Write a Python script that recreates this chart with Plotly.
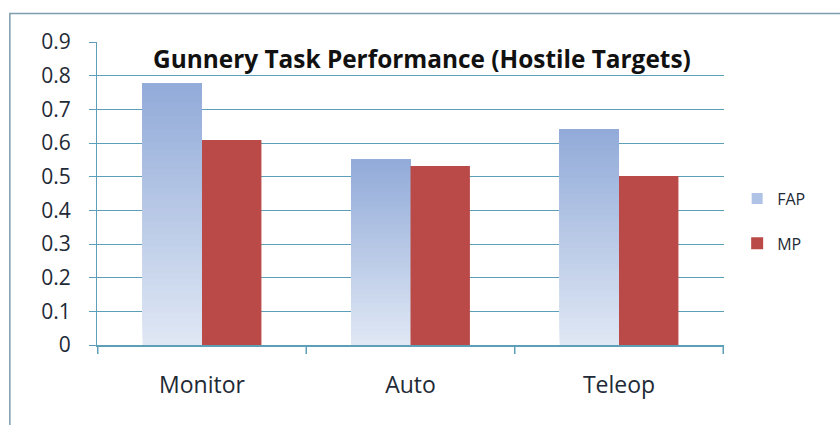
import plotly.graph_objects as go

categories = ["Monitor", "Auto", "Teleop"]
fap_values = [0.777, 0.551, 0.641]
mp_values = [0.609, 0.532, 0.502]
y_ticks = [0, 0.1, 0.2, 0.3, 0.4, 0.5, 0.6, 0.7, 0.8, 0.9]
y_tick_labels = ["0", "0.1", "0.2", "0.3", "0.4", "0.5", "0.6", "0.7", "0.8", "0.9"]
title_text = "Gunnery Task Performance (Hostile Targets)"

# gradient colours for FAP (bottom light -> top darker)
c_bottom = (224, 232, 245)
c_top = (146, 171, 217)
N = 40

seg_x, seg_y, seg_base, seg_col = [], [], [], []
for k in range(N):
    t = (k + 0.5) / N
    r = int(c_bottom[0] + (c_top[0] - c_bottom[0]) * t)
    g = int(c_bottom[1] + (c_top[1] - c_bottom[1]) * t)
    b = int(c_bottom[2] + (c_top[2] - c_bottom[2]) * t)
    for cat, v in zip(categories, fap_values):
        seg_x.append(cat)
        seg_base.append(v * k / N)
        seg_y.append(v - v * k / N)
        seg_col.append(f"rgb({r},{g},{b})")

fig = go.Figure()
fig.add_trace(go.Bar(
    x=seg_x, y=seg_y, base=seg_base, name="FAP",
    marker=dict(color=seg_col, line=dict(width=0)),
    offsetgroup="FAP", showlegend=False, hoverinfo="skip",
))
fig.add_trace(go.Scatter(
    x=[categories[0]], y=[None], mode="markers", name="FAP",
    marker=dict(symbol="square", size=11, color="#AFC3E6"),
    legendgroup="FAP",
))
fig.add_trace(go.Bar(
    x=categories, y=mp_values, name="MP",
    marker=dict(color="#BA4A47", line=dict(width=0)),
    offsetgroup="MP", legendgroup="MP",
))

grid_col = "#5E9FB8"
txt_col = "#1E2A36"
fig.update_layout(
    width=840, height=425,
    margin=dict(l=97, r=116, t=42, b=80),
    paper_bgcolor="white", plot_bgcolor="white",
    barmode="group", bargap=0.43, bargroupgap=0,
    font=dict(family="Open Sans, Liberation Sans, sans-serif", size=20, color=txt_col),
    showlegend=True,
    legend=dict(x=1.021, y=0.409, xanchor="left", yanchor="middle",
                font=dict(size=16, color=txt_col), tracegroupgap=21,
                bgcolor="rgba(0,0,0,0)"),
    xaxis=dict(
        categoryorder="array", categoryarray=categories,
        showgrid=False, showline=True, linecolor=grid_col, linewidth=1.5,
        ticks="", tickfont=dict(size=23, color=txt_col), ticklabelstandoff=19,
    ),
    yaxis=dict(
        range=[0, 0.9], tickvals=y_ticks, ticktext=y_tick_labels,
        showgrid=True, gridcolor=grid_col, gridwidth=1.2,
        showline=True, linecolor=grid_col, linewidth=1.2,
        ticks="outside", ticklen=7, tickcolor=grid_col,
        tickfont=dict(size=21, color=txt_col), zeroline=False,
        ticklabelstandoff=14,
    ),
    annotations=[dict(
        text="<b>" + title_text + "</b>", xref="paper", yref="paper",
        x=0.518, y=0.947, xanchor="center", yanchor="middle", showarrow=False,
        font=dict(size=24.4, color="#111111"),
    )],
    shapes=[
        dict(type="rect", xref="paper", yref="paper",
             x0=-0.139, x1=1.3, y0=-0.5, y1=1.094,
             line=dict(color="#7E9DAE", width=1.5), fillcolor="rgba(0,0,0,0)", layer="below"),
    ],
)
# category boundary ticks on x-axis
for xb in [-0.5, 0.5, 1.5, 2.5]:
    fig.add_shape(type="line", xref="x", yref="paper", x0=xb, x1=xb, y0=0, y1=-0.03,
                  line=dict(color=grid_col, width=1.5))

fig.write_html("out.html", config={"displayModeBar": False},
               post_script="document.body.style.margin='0';")
